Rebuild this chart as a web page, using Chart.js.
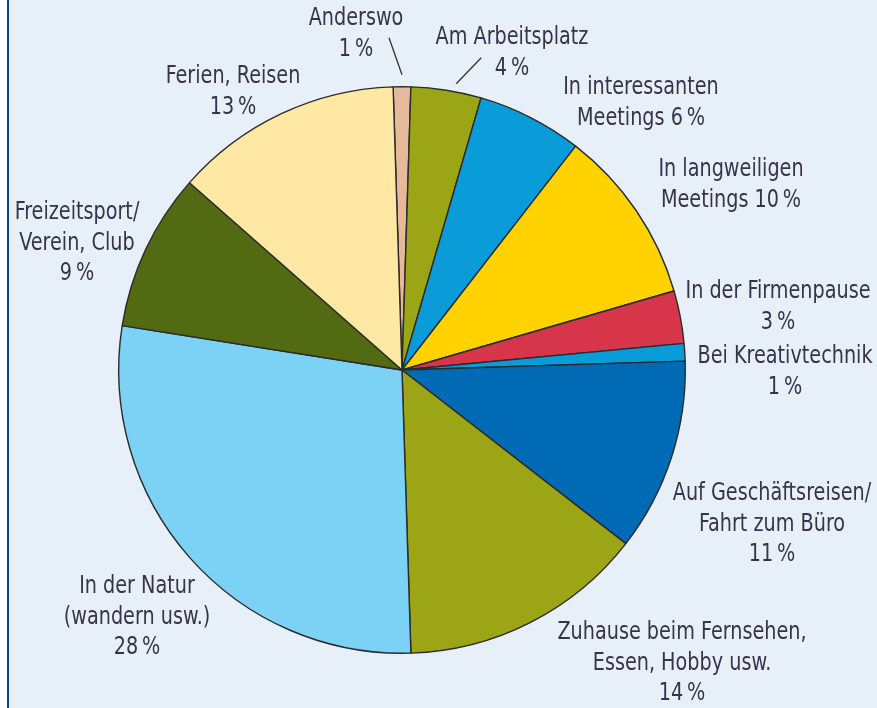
<!DOCTYPE html>
<html>
<head>
<meta charset="utf-8">
<script src="https://cdn.jsdelivr.net/npm/chart.js@4.4.1/dist/chart.umd.min.js"></script>
<style>
  html, body { margin: 0; padding: 0; background: #ffffff; }
  #wrap { position: absolute; left: 0; top: 0; width: 877px; height: 708px; background: #ffffff; }
  #panel { position: absolute; left: 7px; top: 0; width: 870px; height: 708px; background: #e7f0f9; border-left: 2px solid #0d3f8a; box-sizing: border-box; }
  canvas { position: absolute; left: 0; top: 0; }
</style>
</head>
<body>
<div id="wrap">
  <div id="panel"></div>
  <canvas id="c" width="877" height="708"></canvas>
</div>
<script>
// ---- data ----
const categories = [
  "Anderswo",
  "Am Arbeitsplatz",
  "In interessanten Meetings",
  "In langweiligen Meetings",
  "In der Firmenpause",
  "Bei Kreativtechnik",
  "Auf Geschäftsreisen/Fahrt zum Büro",
  "Zuhause beim Fernsehen, Essen, Hobby usw.",
  "In der Natur (wandern usw.)",
  "Freizeitsport/Verein, Club",
  "Ferien, Reisen"
];
const values = [1, 4, 6, 10, 3, 1, 11, 14, 28, 9, 13];
// label text lines; {p} is replaced with the value
const labelLines = [
  ["Anderswo", "{p}"],
  ["Am Arbeitsplatz", "{p}"],
  ["In interessanten", "Meetings {p}"],
  ["In langweiligen", "Meetings {p}"],
  ["In der Firmenpause", "{p}"],
  ["Bei Kreativtechnik", "{p}"],
  ["Auf Geschäftsreisen/", "Fahrt zum Büro", "{p}"],
  ["Zuhause beim Fernsehen,", "Essen, Hobby usw.", "{p}"],
  ["In der Natur", "(wandern usw.)", "{p}"],
  ["Freizeitsport/", "Verein, Club", "{p}"],
  ["Ferien, Reisen", "{p}"]
];

// ---- styles ----
const colors = [
  "#e6b99a", "#9ba516", "#0a9bd9", "#ffd200", "#d7364a", "#0a9bd9",
  "#006ab5", "#9ba516", "#7bd2f5", "#526b12", "#fee8a4"
];
// label anchor (center x, center y of first line)
const labelPos = [
  {x: 356, y: 19},
  {x: 512, y: 38},
  {x: 641, y: 88},
  {x: 731, y: 170},
  {x: 778, y: 292},
  {x: 785, y: 357},
  {x: 772, y: 494},
  {x: 682, y: 633},
  {x: 137, y: 587},
  {x: 77, y: 213},
  {x: 233, y: 77}
];
// leader lines: fraction along the arc, radial gap, end offset
const leaders = [
  {idx: 0, frac: 0.5, gap: 12, dx: -13, dy: -37},
  {idx: 1, frac: 0.62, gap: 8, dx: 25, dy: -26}
];
const FONT = '"Liberation Sans Narrow", "DejaVu Sans Condensed", "Roboto Condensed", sans-serif';
const FONT_SIZE = 24;
const SQUEEZE = 0.89;
const LINE_H = 30.5;
const TEXT_COLOR = "#35354a";

const labelPlugin = {
  id: "pieLabels",
  afterDatasetsDraw(chart) {
    const ctx = chart.ctx;
    const meta = chart.getDatasetMeta(0);
    ctx.save();
    ctx.fillStyle = TEXT_COLOR;
    ctx.font = FONT_SIZE + "px " + FONT;
    ctx.textAlign = "center";
    ctx.textBaseline = "middle";
    labelLines.forEach((lines, i) => {
      const pos = labelPos[i];
      lines.forEach((ln, j) => {
        const txt = ln.replace("{p}", values[i] + "\u2009%");
        const w = ctx.measureText(txt).width;
        ctx.fillText(txt, pos.x, pos.y + j * LINE_H, w * SQUEEZE);
      });
    });
    ctx.strokeStyle = "#333333";
    ctx.lineWidth = 1.3;
    leaders.forEach(l => {
      const arc = meta.data[l.idx];
      const a = arc.startAngle + (arc.endAngle - arc.startAngle) * l.frac;
      const r = arc.outerRadius + l.gap;
      const x0 = arc.x + r * Math.cos(a);
      const y0 = arc.y + r * Math.sin(a);
      ctx.beginPath();
      ctx.moveTo(x0, y0);
      ctx.lineTo(x0 + l.dx, y0 + l.dy);
      ctx.stroke();
    });
    ctx.restore();
  }
};

new Chart(document.getElementById("c"), {
  type: "pie",
  data: {
    labels: categories,
    datasets: [{
      data: values,
      backgroundColor: colors,
      borderColor: "#2b2b2b",
      borderWidth: 1.4
    }]
  },
  options: {
    responsive: false,
    animation: false,
    rotation: -1.8,
    layout: { padding: { left: 118, top: 86, right: 191, bottom: 54 } },
    plugins: { legend: { display: false }, tooltip: { enabled: false } }
  },
  plugins: [labelPlugin]
});
</script>
</body>
</html>
